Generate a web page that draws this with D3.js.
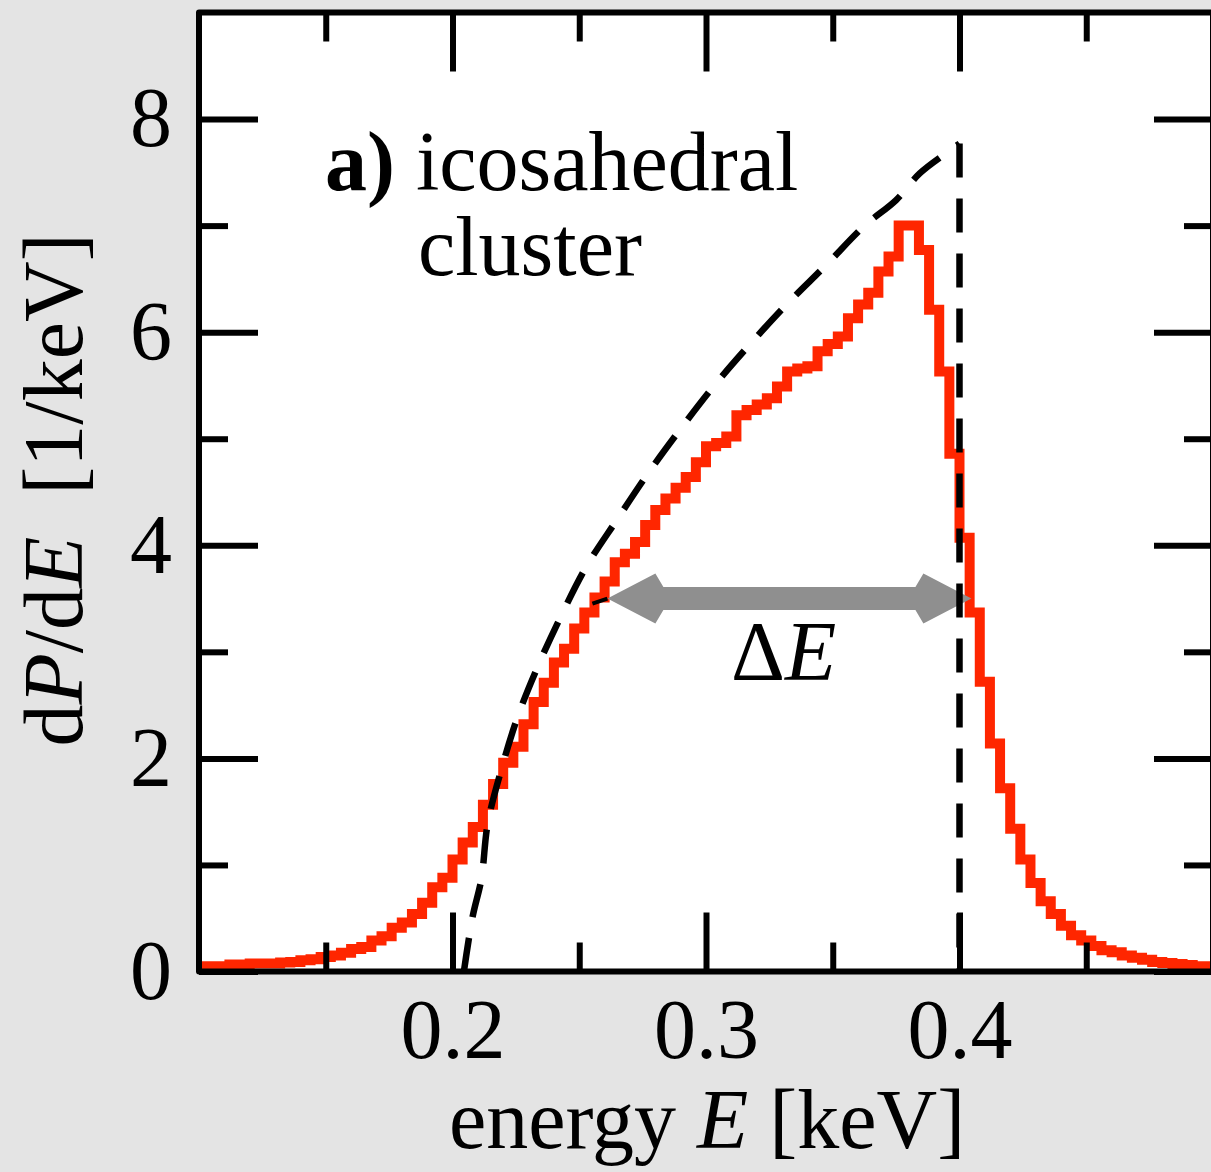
<!DOCTYPE html>
<html><head><meta charset="utf-8">
<script src="https://cdn.jsdelivr.net/npm/d3@7"></script>
<style>
html,body{margin:0;padding:0;background:#e4e4e4;}
svg{display:block;}
text{font-family:"Liberation Serif","Times New Roman",Times,serif;fill:#000;}
</style></head><body>
<svg id="chart" width="1211" height="1172"></svg>
<script>
// ---- data ----
const binStart = 0.1;      // keV, left edge of first bin
const binWidth = 0.004;    // keV
const histValues = [
  0.05,0.05,0.05,0.065,0.065,0.075,0.075,0.075,0.085,0.09,
  0.105,0.115,0.135,0.15,0.175,0.21,0.23,0.29,0.33,0.41,
  0.46,0.54,0.645,0.79,0.88,1.05,1.21,1.355,1.565,1.76,
  1.96,2.11,2.32,2.53,2.71,2.9,3.03,3.22,3.37,3.51,
  3.66,3.84,3.92,4.03,4.19,4.33,4.44,4.54,4.64,4.78,
  4.93,4.96,5.02,5.22,5.27,5.32,5.38,5.49,5.63,5.66,
  5.68,5.82,5.89,5.96,6.13,6.26,6.37,6.57,6.71,7.0,
  7.0,6.77,6.21,5.63,4.86,4.07,3.37,2.72,2.14,1.72,
  1.34,1.05,0.83,0.66,0.54,0.43,0.34,0.29,0.24,0.2,
  0.18,0.15,0.13,0.11,0.09,0.08,0.07,0.06,0.05,0.05
];
const boundE = [0.2045,0.2079,0.2114,0.2139,0.2192,0.2257,0.2336,0.2429,0.2528,0.2646,0.277,0.2896,0.3033,0.3171,0.3322,0.3474,0.3626,0.375,0.3843,0.3953,0.40];
const boundP = [0.0,0.51,0.87,1.39,1.89,2.39,2.86,3.34,3.8,4.23,4.67,5.08,5.5,5.88,6.27,6.63,7.0,7.24,7.49,7.69,7.77];
const cutoffE = 0.4;
const arrowFromE = 0.2611, arrowToE = 0.4047, arrowP = 3.5;
const xDomain = [0.1, 0.5], yDomain = [0, 9];
const xMajorTicks = [0.2, 0.3, 0.4];
const xMinorTicks = [0.15, 0.25, 0.35, 0.45];
const yMajorTicks = [0, 2, 4, 6, 8];
const yMinorTicks = [1, 3, 5, 7];
const xTickLabels = ["0.2", "0.3", "0.4"];

// ---- layout ----
const svg = d3.select("#chart");
const L = 199, R = 1213, T = 12.5, B = 971.5;
const x = d3.scaleLinear().domain(xDomain).range([L, R]);
const y = d3.scaleLinear().domain(yDomain).range([B, T]);
const FS = 84;

svg.append("rect").attr("x", L).attr("y", T).attr("width", R - L).attr("height", B - T).attr("fill", "#fff");

// histogram
const histPts = histValues.map((v, i) => [binStart + i * binWidth, v]);
histPts.push([binStart + histValues.length * binWidth, histValues[histValues.length - 1]]);
svg.append("path")
  .attr("d", d3.line().x(d => x(d[0])).y(d => y(d[1])).curve(d3.curveStepAfter)(histPts))
  .attr("fill", "none").attr("stroke", "#ff2600").attr("stroke-width", 10).attr("stroke-linejoin", "miter");

// arrow
const ax1 = x(arrowFromE), ax2 = x(arrowToE), ay = y(arrowP);
const hl = 48, hb = 56, hh = 25, sh = 11.5;
const arrowPoly = [[ax1, ay], [ax1 + hl, ay - hh], [ax1 + hb, ay - sh], [ax2 - hb, ay - sh], [ax2 - hl, ay - hh], [ax2, ay],
  [ax2 - hl, ay + hh], [ax2 - hb, ay + sh], [ax1 + hb, ay + sh], [ax1 + hl, ay + hh]];
svg.append("polygon").attr("points", arrowPoly.map(p => p.join(",")).join(" ")).attr("fill", "#8f8f8f");
svg.append("line").attr("x1", ax1 - 15).attr("y1", ay + 5).attr("x2", ax1).attr("y2", ay)
  .attr("stroke", "#000").attr("stroke-width", 4);

// dashed bound
const boundPts = boundE.map((e, i) => [e, boundP[i]]);
svg.append("path")
  .attr("d", d3.line().x(d => x(d[0])).y(d => y(d[1])).curve(d3.curveCatmullRom.alpha(0.5))(boundPts))
  .attr("fill", "none").attr("stroke", "#000").attr("stroke-width", 6.5).attr("stroke-dasharray", "34,21");
svg.append("path")
  .attr("d", d3.line().x(d => x(d[0])).y(d => y(d[1]))([[cutoffE, boundP[boundP.length - 1]], [cutoffE, 0]]))
  .attr("fill", "none").attr("stroke", "#000").attr("stroke-width", 6.5).attr("stroke-dasharray", "34,21");

// axes
function styleAxis(g) {
  g.select(".domain").remove();
  g.selectAll(".tick line").attr("stroke", "#000").attr("stroke-width", 6);
  g.selectAll(".tick text").attr("font-size", FS).attr("font-family", '"Liberation Serif","Times New Roman",serif').attr("fill", "#000");
}
svg.append("g").attr("transform", `translate(0,${B})`)
  .call(d3.axisBottom(x).tickValues(xMajorTicks).tickSize(-59).tickPadding(27).tickFormat((d, i) => xTickLabels[i]))
  .call(styleAxis);
svg.append("g").attr("transform", `translate(0,${B})`)
  .call(d3.axisBottom(x).tickValues(xMinorTicks).tickSize(-29).tickFormat("")).call(styleAxis);
svg.append("g").attr("transform", `translate(0,${T})`)
  .call(d3.axisTop(x).tickValues(xMajorTicks).tickSize(-59).tickFormat("")).call(styleAxis);
svg.append("g").attr("transform", `translate(0,${T})`)
  .call(d3.axisTop(x).tickValues(xMinorTicks).tickSize(-29).tickFormat("")).call(styleAxis);
svg.append("g").attr("transform", `translate(${L},0)`)
  .call(d3.axisLeft(y).tickValues(yMajorTicks).tickSize(-59).tickPadding(27).tickFormat(d3.format("d")))
  .call(styleAxis);
svg.append("g").attr("transform", `translate(${L},0)`)
  .call(d3.axisLeft(y).tickValues(yMinorTicks).tickSize(-29).tickFormat("")).call(styleAxis);
svg.append("g").attr("transform", `translate(${R},0)`)
  .call(d3.axisRight(y).tickValues(yMajorTicks).tickSize(-59).tickFormat("")).call(styleAxis);
svg.append("g").attr("transform", `translate(${R},0)`)
  .call(d3.axisRight(y).tickValues(yMinorTicks).tickSize(-29).tickFormat("")).call(styleAxis);

// frame
svg.append("rect").attr("x", L).attr("y", T).attr("width", R - L).attr("height", B - T)
  .attr("fill", "none").attr("stroke", "#000").attr("stroke-width", 6).attr("stroke-linejoin", "round");

// texts
const t1 = svg.append("text").attr("x", 325).attr("y", 190).attr("font-size", FS);
t1.append("tspan").attr("font-weight", "bold").text("a)");
t1.append("tspan").text(" icosahedral");
svg.append("text").attr("x", 418).attr("y", 275).attr("font-size", FS).text("cluster");

const dE = svg.append("text").attr("x", 731).attr("y", 680).attr("font-size", FS);
dE.append("tspan").text("Δ");
dE.append("tspan").attr("font-style", "italic").text("E");

const xl = svg.append("text").attr("x", 707).attr("y", 1148).attr("font-size", FS).attr("text-anchor", "middle");
xl.append("tspan").text("energy ");
xl.append("tspan").attr("font-style", "italic").text("E");
xl.append("tspan").text(" [keV]");

const yl = svg.append("text").attr("transform", "translate(82,490) rotate(-90)").attr("font-size", FS).attr("text-anchor", "middle");
yl.append("tspan").text("d");
yl.append("tspan").attr("font-style", "italic").text("P");
yl.append("tspan").text("/d");
yl.append("tspan").attr("font-style", "italic").text("E");
yl.append("tspan").attr("dx", 21).text(" [1/keV]");
</script>
</body></html>
